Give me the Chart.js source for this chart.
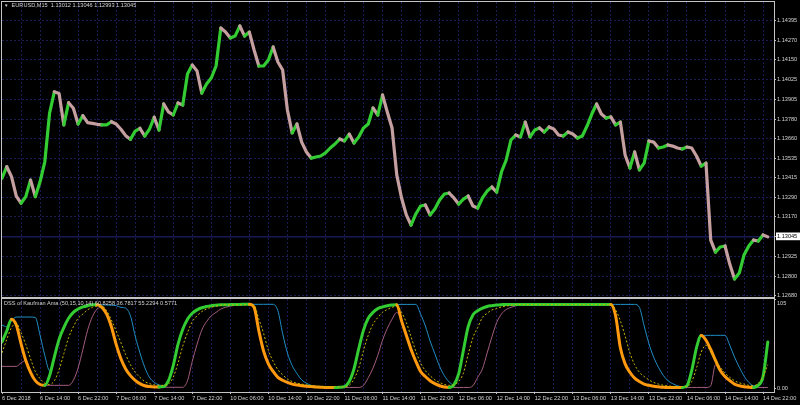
<!DOCTYPE html>
<html>
<head>
<meta charset="utf-8">
<script src="https://cdn.jsdelivr.net/npm/chart.js@4.4.1/dist/chart.umd.min.js"></script>
<style>
  html, body { margin: 0; background: #000; }
  #wrap { position: relative; width: 800px; height: 405px; overflow: hidden; background: #000; }
  canvas { position: absolute; left: 0; }
  .cap { position: absolute; color: #d2d2d2; font: 5.6px "Liberation Sans", Arial, sans-serif; white-space: nowrap; line-height: 7px; }
</style>
</head>
<body>
<div id="wrap">
  <canvas id="priceChart" width="800" height="300" style="top:0"></canvas>
  <canvas id="dssChart" width="800" height="115" style="top:290px"></canvas>
  <div class="cap" style="left:4px;top:2px"><span style="font-size:4.5px">▼</span>&nbsp; EURUSD,M15&nbsp; 1.13012 1.13046 1.12993 1.13045</div>
  <div class="cap" style="left:4px;top:300px">DSS of Kaufman Ama (50,15,10,14) 60.8258 36.7817 55.2294 0.5771</div>
</div>
<script>
// time axis: one label every 8 hours, grid every 4 hours
const timeTickLabels = ['6 Dec 2018', '6 Dec 14:00', '6 Dec 22:00', '7 Dec 06:00', '7 Dec 14:00', '7 Dec 22:00',
  '10 Dec 06:00', '10 Dec 14:00', '10 Dec 22:00', '11 Dec 06:00', '11 Dec 14:00', '11 Dec 22:00',
  '12 Dec 06:00', '12 Dec 14:00', '12 Dec 22:00', '13 Dec 06:00', '13 Dec 14:00', '13 Dec 22:00',
  '14 Dec 06:00', '14 Dec 14:00', '14 Dec 22:00']
const hoursPerLabel = 8
const hoursPerGrid = 4

const priceTicks = [1.14395, 1.14270, 1.14150, 1.14025, 1.13905, 1.13780, 1.13660, 1.13535,
  1.13415, 1.13290, 1.13170, 1.13045, 1.12925, 1.12800, 1.12680]
const bidPrice = 1.13045

// EURUSD hourly closes (6 Dec 06:00 .. 14 Dec 23:00)
const closes = [
  1.13411, 1.13483, 1.13421, 1.13300, 1.13255, 1.13296, 1.13400, 1.13296, 1.13389, 1.13514,
  1.13817, 1.13951, 1.13941, 1.13744, 1.13883, 1.13848, 1.13750, 1.13802, 1.13758, 1.13754,
  1.13748, 1.13744, 1.13744, 1.13764, 1.13750, 1.13717, 1.13677, 1.13654, 1.13706, 1.13723,
  1.13675, 1.13717, 1.13792, 1.13712, 1.13875, 1.13825, 1.13806, 1.13881, 1.13868, 1.14062,
  1.14118, 1.14081, 1.13943, 1.14000, 1.14037, 1.14112, 1.14349, 1.14324, 1.14287, 1.14299,
  1.14362, 1.14299, 1.14324, 1.14212, 1.14112, 1.14112, 1.14150, 1.14231, 1.14137, 1.14087,
  1.13837, 1.13694, 1.13750, 1.13637, 1.13575, 1.13537, 1.13544, 1.13550, 1.13569, 1.13600,
  1.13625, 1.13656, 1.13644, 1.13687, 1.13631, 1.13669, 1.13725, 1.13750, 1.13850, 1.13806,
  1.13931, 1.13825, 1.13725, 1.13431, 1.13288, 1.13182, 1.13119, 1.13188, 1.13238, 1.13244,
  1.13182, 1.13219, 1.13275, 1.13313, 1.13319, 1.13288, 1.13250, 1.13281, 1.13300, 1.13238,
  1.13225, 1.13288, 1.13331, 1.13356, 1.13325, 1.13450, 1.13525, 1.13650, 1.13681, 1.13669,
  1.13762, 1.13669, 1.13712, 1.13725, 1.13700, 1.13731, 1.13719, 1.13681, 1.13675, 1.13700,
  1.13687, 1.13662, 1.13675, 1.13737, 1.13812, 1.13875, 1.13812, 1.13787, 1.13794, 1.13744,
  1.13762, 1.13556, 1.13475, 1.13575, 1.13463, 1.13506, 1.13644, 1.13637, 1.13600, 1.13606,
  1.13619, 1.13612, 1.13600, 1.13594, 1.13606, 1.13600, 1.13550, 1.13487, 1.13506, 1.13025,
  1.12950, 1.12982, 1.12988, 1.12875, 1.12782, 1.12819, 1.12932, 1.12988, 1.13025, 1.13019,
  1.13057, 1.13045
]

// DSS of Kaufman AMA sub-window, hourly readings
const dssMain = [
  55, 68, 82, 75, 53, 33, 19, 9, 4.5, 3.5,
  15, 37, 58, 72, 83, 90, 94, 96.5, 98, 99,
  99, 96, 88, 73, 52, 35, 23, 15, 9.5, 5.5,
  3, 2, 1.5, 1.5, 2, 9, 27, 52, 70, 82,
  89, 93, 95.5, 97, 98, 98.5, 99, 99, 99.3, 99.5,
  99.5, 99.6, 99.6, 96, 68, 44, 29, 20, 13, 9.5,
  7, 5, 3.8, 3, 2.4, 2, 1.5, 1.2, 1, 1,
  1, 1.2, 2, 8, 23, 47, 69, 83, 90, 94.5,
  96.5, 98, 98.8, 99.2, 80, 63, 46, 32, 20, 14,
  9, 5.5, 3, 1.5, 1, 4, 17, 45, 73, 87,
  92, 95, 97, 98, 98.8, 99.2, 99.5, 99.5, 99.5, 99.5,
  99.5, 99.5, 99.5, 99.5, 99.5, 99.5, 99.5, 99.5, 99.5, 99.5,
  99.5, 99.5, 99.5, 99.5, 99.5, 99.5, 99.5, 99.5, 99.5, 86,
  48, 29, 19, 12, 8, 5, 3.5, 2.5, 1.8, 1.2,
  1, 1, 1, 1, 3, 21, 48, 62.5, 57, 46,
  33, 21, 14, 9, 5, 3, 1.8, 1.2, 1, 3.5,
  14, 55
]
const dssSignal = [
  42, 58, 72, 77, 66, 52, 35, 20, 11.5, 6,
  4.5, 9, 22, 41, 60, 73, 83, 88, 93, 96,
  97.5, 97.5, 92, 81, 68, 54, 40, 28, 19, 13,
  8, 5.5, 4, 3.5, 3.5, 5, 13, 30, 50, 66,
  79, 86, 91, 94, 96, 97.5, 98.5, 99, 99, 99,
  99, 99, 99, 98.5, 82, 65, 45, 32, 22, 16,
  11, 8, 6, 5, 4, 3.2, 2.6, 2.2, 2, 1.8,
  1.7, 1.6, 1.8, 3.5, 11, 24, 45, 63, 76, 84,
  90, 93.5, 96, 97.5, 90, 78, 61, 44, 30, 21,
  15, 10, 7, 4.5, 3.5, 4, 8, 18, 40, 60,
  72, 84, 89, 93, 94.5, 96.5, 97.5, 98.5, 99.3, 99.3,
  99.3, 99.3, 99.3, 99.3, 99.3, 99.3, 99.3, 99.3, 99.3, 99.3,
  99.3, 99.3, 99.3, 99.3, 99.3, 99.3, 99.3, 99.3, 99.3, 93,
  80, 62, 42, 28, 19, 14, 10, 7, 5, 3.6,
  2.8, 2.3, 2, 1.8, 2, 8, 24, 43, 51, 43,
  33, 25, 18, 13, 9, 6.5, 5, 3.5, 3, 6,
  14, 28
]
const dssHigh = [
  75, 73, 80, 84.5, 84.5, 84.5, 84.5, 84, 63, 39,
  21, 37, 58, 72, 83, 90, 94, 96.5, 98, 99,
  99, 99, 98.8, 98.5, 98, 96, 95, 86, 62, 42,
  25, 13, 7, 4, 3, 9, 27, 52, 70, 82,
  89, 93, 95.5, 97, 98, 98.5, 99, 99, 99.3, 99.5,
  99.5, 99.6, 99.6, 99.6, 99.6, 99.6, 99.6, 99.6, 92, 65,
  42, 27, 17.5, 10, 6, 3.5, 2.2, 1.5, 1, 1,
  1, 1.2, 2, 8, 23, 47, 69, 83, 90, 94.5,
  96.5, 98, 98.8, 99.2, 99.5, 99.5, 99.5, 99.5, 88, 74,
  56, 41, 26, 15, 7.5, 4, 17, 45, 73, 87,
  92, 95, 97, 98, 98.8, 99.2, 99.5, 99.5, 99.5, 99.5,
  99.5, 99.5, 99.5, 99.5, 99.5, 99.5, 99.5, 99.5, 99.5, 99.5,
  99.5, 99.5, 99.5, 99.5, 99.5, 99.5, 99.5, 99.5, 99.5, 99.5,
  99.5, 99.5, 99.5, 99.5, 96, 74, 53, 37, 25, 15.5,
  9, 5.5, 3, 1.8, 3, 21, 48, 62.5, 62.8, 62.8,
  62.8, 62.8, 62.8, 51, 37, 25, 14.5, 7, 3.2, 3.5,
  14, 55
]
const dssLow = [
  26, 26, 26, 26, 30, 33, 19, 9, 4.5, 3.5,
  3.5, 3.5, 3.5, 3.5, 3.5, 9.5, 24, 46, 69, 85,
  94, 96, 88, 73, 52, 35, 23, 15, 9.5, 5.5,
  3, 2, 1.5, 1.5, 1.2, 1.2, 1.2, 1.2, 1.2, 9,
  32, 52, 69, 79, 86, 90, 94, 96, 97.5, 98.3,
  98.8, 99.2, 99.4, 96, 68, 44, 29, 20, 13, 9.5,
  7, 5, 3.8, 3, 2.4, 2, 1.5, 1.2, 1, 1,
  1, 1, 1, 1, 1, 1, 3.5, 12.5, 24, 39,
  57, 71, 82, 90, 80, 63, 46, 32, 20, 14,
  9, 5.5, 3, 1.5, 1, 1, 1, 1, 1, 3,
  13, 23, 42, 61, 78, 88, 93.5, 96, 97.8, 98.8,
  99.3, 99.5, 99.5, 99.5, 99.5, 99.5, 99.5, 99.5, 99.5, 99.5,
  99.5, 99.5, 99.5, 99.5, 99.5, 99.5, 99.5, 99.5, 99.5, 86,
  48, 29, 19, 12, 8, 5, 3.5, 2.5, 1.8, 1.2,
  1, 1, 1, 1, 1, 1, 1, 1, 1, 3,
  28, 21, 14, 9, 5, 3, 1.8, 1.2, 1, 1,
  1, 1
]
const dssTicks = [105, 0]

const gridColor = '#1a1a56'
const frameColor = '#c4c4c4'
const textColor = '#d2d2d2'
const bullColor = '#33cc33'
const bearColor = '#c6a0a0'
const dssUpColor = '#33cc33'
const dssDownColor = '#ff9a10'
const xMax = 162.3

Chart.defaults.font.family = '"Liberation Sans", Arial, sans-serif'
Chart.defaults.font.size = 5.6

const pts = arr => arr.map((v, i) => ({ x: i, y: v }))

// colour the DSS line by its last non-flat direction (green rising, orange falling)
const dssDir = []
let lastDir = 1
for (let i = 0; i < dssMain.length - 1; i++) {
  if (dssMain[i + 1] > dssMain[i]) lastDir = 1
  else if (dssMain[i + 1] < dssMain[i]) lastDir = -1
  dssDir.push(lastDir)
}

const frame = {
  id: 'frame',
  afterDraw (chart) {
    const { ctx, chartArea: a } = chart
    const l = Math.floor(a.left) - 0.5
    const t = Math.floor(a.top) - 0.5
    ctx.save()
    ctx.strokeStyle = frameColor
    ctx.lineWidth = 1
    ctx.strokeRect(l, t, Math.round(a.right) + 0.5 - l, Math.round(a.bottom) + 0.5 - t)
    ctx.restore()
  }
}

// keep the sub-window's top label inside the window, like the terminal does
const keepLabelsInside = {
  id: 'keepLabelsInside',
  beforeDraw (chart) {
    const top = chart.chartArea.top
    chart.scales.y.getLabelItems().forEach(item => {
      const tr = item.options.translation
      if (tr[1] < top + 4.5) tr[1] = top + 4.5
    })
  }
}

function timeTicks (scale) {
  const ticks = []
  for (let h = 0; h <= (timeTickLabels.length - 1) * hoursPerLabel; h += hoursPerGrid) ticks.push({ value: h })
  scale.ticks = ticks
}

function noPad (scale) {
  scale.paddingTop = 0
  scale.paddingBottom = 0
  scale.paddingLeft = 0
  scale.paddingRight = 0
}

const vGrid = {
  color: ctx => (ctx.tick && ctx.tick.value === 0) ? 'rgba(0,0,0,0)' : gridColor,
  lineWidth: 1
}

const priceChart = new Chart(document.getElementById('priceChart'), {
  type: 'line',
  data: {
    datasets: [
      {
        data: pts(closes),
        borderWidth: 3.2,
        pointRadius: 0,
        borderCapStyle: 'round',
        borderJoinStyle: 'round',
        segment: {
          borderColor: c => c.p1.parsed.y >= c.p0.parsed.y ? bullColor : bearColor
        }
      },
      {
        data: [{ x: 0, y: bidPrice }, { x: xMax, y: bidPrice }],
        borderColor: '#262680',
        borderWidth: 1,
        pointRadius: 0
      }
    ]
  },
  options: {
    responsive: false,
    animation: false,
    devicePixelRatio: 1,
    events: [],
    parsing: false,
    layout: { padding: { left: 2, top: 2, right: 0, bottom: 3 } },
    plugins: { legend: { display: false }, tooltip: { enabled: false } },
    scales: {
      x: {
        type: 'linear',
        min: 0,
        max: xMax,
        afterBuildTicks: timeTicks,
        afterFit: s => { s.height = 0; noPad(s) },
        ticks: { display: false },
        grid: { ...vGrid, drawTicks: false },
        border: { display: false, dash: [2, 2] }
      },
      y: {
        position: 'right',
        min: 1.126694,
        max: 1.145118,
        afterBuildTicks: s => { s.ticks = priceTicks.map(v => ({ value: v })) },
        afterFit: s => { s.width = 26; noPad(s) },
        grid: {
          color: ctx => (ctx.tick && ctx.tick.value === bidPrice) ? 'rgba(0,0,0,0)' : gridColor,
          drawTicks: true,
          tickLength: 2,
          tickColor: frameColor
        },
        border: { display: false, dash: [2, 2] },
        ticks: {
          autoSkip: false,
          padding: 1,
          color: ctx => ctx.tick.value === bidPrice ? '#000' : textColor,
          showLabelBackdrop: ctx => ctx.tick.value === bidPrice,
          backdropColor: '#ffffff',
          backdropPadding: { top: 1, bottom: 0, left: 1, right: 3 },
          callback: v => v.toFixed(5)
        }
      }
    }
  },
  plugins: [frame]
})

const thin = { pointRadius: 0, borderWidth: 1, cubicInterpolationMode: 'monotone' }

const dssChart = new Chart(document.getElementById('dssChart'), {
  type: 'line',
  data: {
    datasets: [
      { ...thin, data: pts(dssSignal), borderColor: '#c8b800', borderDash: [2, 2] },
      {
        data: pts(dssMain),
        pointRadius: 0,
        borderWidth: 3,
        cubicInterpolationMode: 'monotone',
        borderCapStyle: 'round',
        borderJoinStyle: 'round',
        segment: { borderColor: c => dssDir[c.p0DataIndex] > 0 ? dssUpColor : dssDownColor }
      },
      { ...thin, data: pts(dssHigh), borderColor: '#1f8fc6' },
      { ...thin, data: pts(dssLow), borderColor: '#a35d80' }
    ]
  },
  options: {
    responsive: false,
    animation: false,
    devicePixelRatio: 1,
    events: [],
    parsing: false,
    layout: { padding: { left: 2, top: 9, right: 0, bottom: 0 } },
    plugins: { legend: { display: false }, tooltip: { enabled: false } },
    scales: {
      x: {
        type: 'linear',
        min: 0,
        max: xMax,
        afterBuildTicks: timeTicks,
        afterFit: s => { s.height = 13; noPad(s) },
        grid: {
          ...vGrid,
          drawTicks: true,
          tickLength: 2,
          tickColor: ctx => (ctx.tick && ctx.tick.value % hoursPerLabel === 0) ? frameColor : 'rgba(0,0,0,0)'
        },
        border: { display: false, dash: [2, 2] },
        ticks: {
          autoSkip: false,
          maxRotation: 0,
          align: 'start',
          padding: 0.6,
          color: textColor,
          callback: v => v % hoursPerLabel === 0 ? timeTickLabels[v / hoursPerLabel] : ''
        }
      },
      y: {
        position: 'right',
        min: -4.4,
        max: 105.9,
        afterBuildTicks: s => { s.ticks = dssTicks.map(v => ({ value: v })) },
        afterFit: s => { s.width = 26; noPad(s) },
        grid: { drawOnChartArea: false, drawTicks: true, tickLength: 2, tickColor: frameColor },
        border: { display: false },
        ticks: {
          autoSkip: false,
          padding: 1,
          color: textColor,
          callback: v => v === 0 ? '0.00' : String(v)
        }
      }
    }
  },
  plugins: [frame, keepLabelsInside]
})
</script>
</body>
</html>
